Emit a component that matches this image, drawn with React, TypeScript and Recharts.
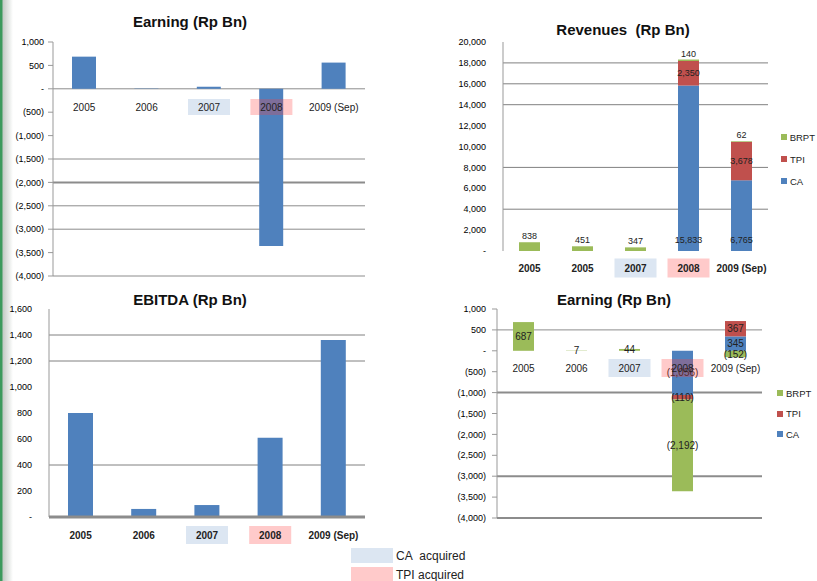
import React from 'react';
import { BarChart, Bar, XAxis, YAxis, CartesianGrid, LabelList, Legend } from 'recharts';

const FONT = '"Liberation Sans", Arial, sans-serif';
const BLUE = '#4f81bd';
const RED = '#c0504d';
const GREEN = '#9bbb59';
const CA_BOX = '#dce6f2';
const TPI_BOX = 'rgba(255,60,60,0.27)';

// categories
const years = ['2005', '2006', '2007', '2008', '2009 (Sep)'];
const revenueYears = ['2005', '2005', '2007', '2008', '2009 (Sep)'];

// consolidated earning & EBITDA (Rp Bn)
const earning = [687, 7, 44, -3358, 560];
const ebitda = [800, 62, 92, 610, 1361];

// revenues by company
const revCA = [null, null, null, 15833, 6765];
const revTPI = [null, null, null, 2350, 3678];
const revBRPT = [838, 451, 347, 140, 62];

// earning by company
const earnCA = [null, null, null, -1056, 345];
const earnTPI = [null, null, null, -110, 367];
const earnBRPT = [687, 7, 44, -2192, -152];

const earningTicks = [1000, 500, 0, -500, -1000, -1500, -2000, -2500, -3000, -3500, -4000];
const revenueTicks = [0, 2000, 4000, 6000, 8000, 10000, 12000, 14000, 16000, 18000, 20000];
const ebitdaTicks = [0, 200, 400, 600, 800, 1000, 1200, 1400, 1600];

const legendItems = [
  { name: 'BRPT', color: GREEN },
  { name: 'TPI', color: RED },
  { name: 'CA', color: BLUE },
];

const earningData = years.map((year, i) => ({ year, value: earning[i] }));
const ebitdaData = years.map((year, i) => ({ year, value: ebitda[i] }));
const revenueData = revenueYears.map((year, i) => ({ year, CA: revCA[i], TPI: revTPI[i], BRPT: revBRPT[i] }));
const earnSplitData = years.map((year, i) => ({ year, CA: earnCA[i], TPI: earnTPI[i], BRPT: earnBRPT[i] }));

const fmt = (v: any) => {
  if (v === null || v === undefined) return '';
  const n = Number(v);
  if (n === 0) return '-';
  const s = Math.abs(n).toLocaleString('en-US');
  return n < 0 ? `(${s})` : s;
};

const boxFills = ['', '', CA_BOX, TPI_BOX, ''];

const makeTick = (labelY: number, bold: boolean, boxH: number) => (props: any) => {
  const { x, payload } = props;
  const i = payload?.index ?? props.index;
  const fill = boxFills[i];
  return (
    <g>
      {fill && <rect x={x - 21} y={labelY - boxH / 2} width={42} height={boxH} fill={fill} />}
      <text
        x={x}
        y={labelY}
        dy={3.5}
        textAnchor="middle"
        fontSize={10}
        fontFamily={FONT}
        fontWeight={bold ? 'bold' : 'normal'}
        fill="#222"
      >
        {payload.value}
      </text>
    </g>
  );
};

const yTick = { fontSize: 9, fill: '#000', fontFamily: FONT };

const SideLegend = ({ rowH }: { rowH: number }) => (
  <div style={{ fontFamily: FONT, fontSize: 9.5, color: '#222' }}>
    {legendItems.map((it) => (
      <div key={it.name} style={{ display: 'flex', alignItems: 'center', height: rowH }}>
        <span style={{ width: 6, height: 6, background: it.color, marginRight: 3, display: 'inline-block' }} />
        {it.name}
      </div>
    ))}
  </div>
);

const Title = ({ text, cx, cy }: { text: string; cx: number; cy: number }) => (
  <div
    style={{
      position: 'absolute', left: cx - 100, top: cy - 9, width: 200, lineHeight: '18px',
      textAlign: 'center', fontFamily: FONT, fontWeight: 'bold', fontSize: 15, color: '#111',
      whiteSpace: 'pre',
    }}
  >
    {text}
  </div>
);

const App: React.FC = () => {
  return (
    <div style={{ position: 'absolute', left: 0, top: 0, width: 817, height: 581, background: '#fff', overflow: 'hidden' }}>
      <div
        style={{
          position: 'absolute', left: 0, top: 0, width: 14, height: 581,
          background: 'linear-gradient(to right, #3c9a5c 0px, #3c9a5c 2px, #c4cbc5 3px, #ffffff 13px)',
        }}
      />

      {/* Earning consolidated */}
      <Title text="Earning (Rp Bn)" cx={190} cy={22} />
      <div style={{ position: 'absolute', left: 0, top: 0 }}>
        <BarChart width={400} height={290} data={earningData} margin={{ top: 42, right: 35, bottom: 0, left: 0 }}>
          <CartesianGrid vertical={false} horizontalValues={[0, -1500, -2500, -3000]} stroke="#8c8c8c" />
          <CartesianGrid vertical={false} horizontalValues={[-2000]} stroke="#8c8c8c" strokeWidth={2} />
          <YAxis width={53} domain={[-4000, 1000]} ticks={earningTicks} tickFormatter={fmt} tick={yTick}
            axisLine={{ stroke: '#999' }} tickLine={{ stroke: '#999' }} tickSize={5} tickMargin={4} interval={0} />
          <Bar dataKey="value" fill={BLUE} barSize={24} isAnimationActive={false} />
          <XAxis dataKey="year" height={14} axisLine={{ stroke: '#8c8c8c' }} tickLine={false}
            tick={makeTick(107, false, 16)} interval={0} />
        </BarChart>
      </div>

      {/* Revenues */}
      <Title text="Revenues  (Rp Bn)" cx={623} cy={30} />
      <div style={{ position: 'absolute', left: 420, top: 0 }}>
        <BarChart width={397} height={290} data={revenueData} margin={{ top: 42, right: 49, bottom: 0, left: 0 }}>
          <CartesianGrid vertical={false} horizontalValues={[18000, 16000, 14000, 8000, 4000]} stroke="#808080" />
          <YAxis width={83} domain={[0, 20000]} ticks={revenueTicks} tickFormatter={fmt} tick={yTick}
            axisLine={{ stroke: '#999' }} tickLine={false} tickMargin={11} interval={0} />
          <Bar dataKey="CA" stackId="r" fill={BLUE} barSize={21} isAnimationActive={false}>
            <LabelList dataKey="CA" position="insideBottom" offset={8} formatter={fmt} fontSize={9} fill="#222" fontFamily={FONT} />
          </Bar>
          <Bar dataKey="TPI" stackId="r" fill={RED} barSize={21} isAnimationActive={false}>
            <LabelList dataKey="TPI" position="center" formatter={fmt} fontSize={9} fill="#222" fontFamily={FONT} />
          </Bar>
          <Bar dataKey="BRPT" stackId="r" fill={GREEN} barSize={21} isAnimationActive={false}>
            <LabelList dataKey="BRPT" position="top" offset={3} formatter={fmt} fontSize={9} fill="#222" fontFamily={FONT} />
          </Bar>
          <XAxis dataKey="year" height={39} axisLine={false} tickLine={false}
            tick={makeTick(268, true, 19)} interval={0} />
          <Legend layout="vertical" align="center" verticalAlign="middle"
            wrapperStyle={{ left: 361, top: 126, width: 34 }} content={() => <SideLegend rowH={22} />} />
        </BarChart>
      </div>

      {/* EBITDA */}
      <Title text="EBITDA (Rp Bn)" cx={190} cy={300} />
      <div style={{ position: 'absolute', left: 0, top: 290 }}>
        <BarChart width={400} height={291} data={ebitdaData} margin={{ top: 19, right: 35, bottom: 0, left: 0 }}>
          <CartesianGrid vertical={false} horizontalValues={[1400, 1200, 400]} stroke="#808080" />
          <YAxis width={49} domain={[0, 1600]} ticks={ebitdaTicks} tickFormatter={fmt} tick={yTick}
            axisLine={{ stroke: '#999' }} tickLine={false} tickMargin={11} interval={0} />
          <Bar dataKey="value" fill={BLUE} barSize={25} isAnimationActive={false} />
          <XAxis dataKey="year" height={64} axisLine={{ stroke: '#8c8c8c', strokeWidth: 3 }} tickLine={false}
            tick={makeTick(245, true, 18)} interval={0} />
        </BarChart>
      </div>

      {/* Earning by company */}
      <Title text="Earning (Rp Bn)" cx={614} cy={300} />
      <div style={{ position: 'absolute', left: 420, top: 290 }}>
        <BarChart width={397} height={240} data={earnSplitData} stackOffset="sign"
          margin={{ top: 19, right: 55, bottom: 0, left: 0 }}>
          <CartesianGrid vertical={false} horizontalValues={[500]} stroke="#8c8c8c" />
          <CartesianGrid vertical={false} horizontalValues={[-1000, -3000]} stroke="#8c8c8c" strokeWidth={2} />
          <YAxis width={77} domain={[-4000, 1000]} ticks={earningTicks} tickFormatter={fmt} tick={yTick}
            axisLine={{ stroke: '#999' }} tickLine={{ stroke: '#999' }} tickSize={5} tickMargin={6} interval={0} />
          <Bar dataKey="CA" stackId="e" fill={BLUE} barSize={21} isAnimationActive={false}>
            <LabelList dataKey="CA" position="center" formatter={fmt} fontSize={10} fill="#222" fontFamily={FONT} />
          </Bar>
          <Bar dataKey="TPI" stackId="e" fill={RED} barSize={21} isAnimationActive={false}>
            <LabelList dataKey="TPI" position="center" formatter={fmt} fontSize={10} fill="#222" fontFamily={FONT} />
          </Bar>
          <Bar dataKey="BRPT" stackId="e" fill={GREEN} barSize={21} isAnimationActive={false}>
            <LabelList dataKey="BRPT" position="center" formatter={fmt} fontSize={10} fill="#222" fontFamily={FONT} />
          </Bar>
          <XAxis dataKey="year" height={12} axisLine={{ stroke: '#8c8c8c', strokeWidth: 2 }} tickLine={false}
            tick={makeTick(78, false, 18)} interval={0} />
          <Legend layout="vertical" align="center" verticalAlign="middle"
            wrapperStyle={{ left: 357, top: 93, width: 36 }} content={() => <SideLegend rowH={20.5} />} />
        </BarChart>
      </div>

      {/* acquisition key */}
      <div style={{ position: 'absolute', left: 351, top: 548, fontFamily: FONT, fontSize: 12, color: '#222' }}>
        <div style={{ display: 'flex', alignItems: 'center', height: 15, marginBottom: 4 }}>
          <span style={{ width: 42, height: 15, background: CA_BOX, display: 'inline-block', marginRight: 3 }} />
          CA&nbsp; acquired
        </div>
        <div style={{ display: 'flex', alignItems: 'center', height: 15 }}>
          <span style={{ width: 42, height: 15, background: '#ffcaca', display: 'inline-block', marginRight: 3 }} />
          TPI acquired
        </div>
      </div>
    </div>
  );
};

export default App;
